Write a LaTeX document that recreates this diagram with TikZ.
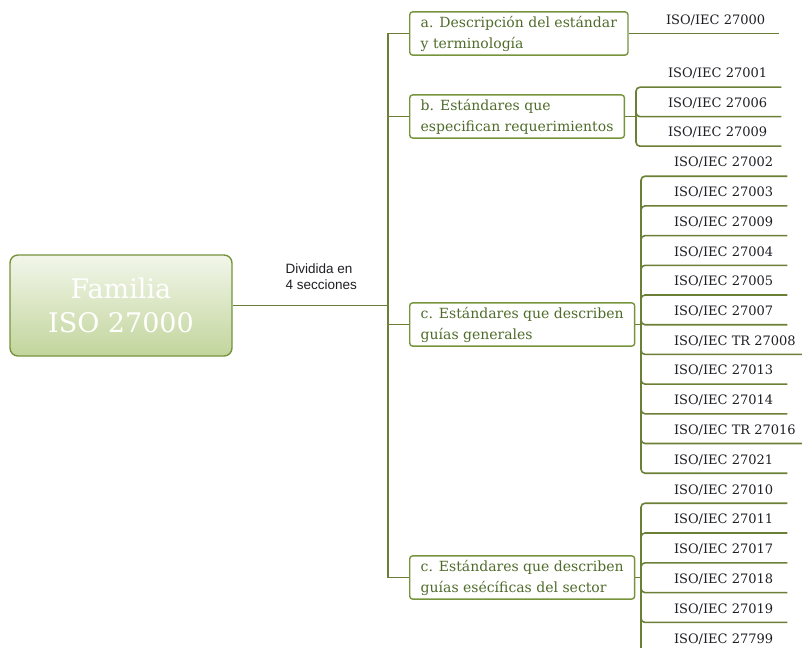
\documentclass[tikz,border=0pt]{standalone}
\usepackage{fontspec}
\setmainfont{DejaVu Serif}
\newfontfamily\labelfont{Liberation Sans}
\usetikzlibrary{positioning}

\definecolor{isogreen}{HTML}{77933C}
\definecolor{isoline}{HTML}{6B7F36}
\definecolor{isotext}{HTML}{4F6B2A}
\definecolor{isodark}{HTML}{1E1E24}
\definecolor{isotop}{HTML}{F2F6EA}
\definecolor{isobottom}{HTML}{C2D59C}

\tikzset{
	conn/.style={draw=isoline, line width=1.6pt},
	mainbox/.style={draw=isogreen, line width=1.4pt, rounded corners=8pt, top color=isotop, bottom color=isobottom, minimum width=222pt, minimum height=101pt, align=center, text=white, font=\fontsize{27}{34}\selectfont},
	secbox/.style={draw=isogreen, line width=1.4pt, rounded corners=3pt, anchor=west, align=left, inner xsep=11pt, inner ysep=4pt, text=isotext, font=\fontsize{14}{21}\selectfont},
	isoitem/.style={anchor=text, inner xsep=14pt, inner ysep=9pt, text depth=0pt, text=isodark, font=\fontsize{13}{15}\selectfont},
}

\begin{document}
\begin{tikzpicture}[x=1pt, y=-1pt]
	\clip (0,0) rectangle (802,647);
	
	% main box and the four sections
	\node[mainbox] (fam) at (121,305.5) {Familia\\ISO 27000};
	\node[secbox] (a) at (409,33.5) {a. Descripción del estándar\\y terminología};
	\node[secbox] (b) at (409,116.5) {b. Estándares que\\especifican requerimientos};
	\node[secbox] (c) at (409,324.5) {c. Estándares que describen\\guías generales};
	\node[secbox] (d) at (409,577.5) {c. Estándares que describen\\guías esécíficas del sector};
	
	\coordinate (tr) at (388,305.5);
	\draw[conn] (fam.east) -- (tr);
	\node[font=\labelfont\fontsize{13.5}{16}\selectfont, text=isodark, align=left, anchor=west] (div) at (282,277) {Dividida en\\4 secciones};
	\foreach \s in {a,b,c,d}
		\draw[conn] (tr) |- (\s.west);
	
	% a
	\node[isoitem] (a1) at (666,24.5) {ISO/IEC 27000};
	\draw[conn] (a.east) -- (a.east -| a1.south east);
	
	% b
	\coordinate (jb) at (636,116.5);
	\draw[conn] (b.east) -- (jb);
	\foreach \t [count=\i] in {27001,27006,27009} {
		\node[isoitem] (b\i) at (668,48.5+29.5*\i) {ISO/IEC \t};
		\draw[conn, rounded corners=4pt] (jb) |- (b\i.south east);
	}
	
	% c, guias generales
	\coordinate (jc) at (641,324.5);
	\draw[conn] (c.east) -- (jc);
	\foreach \t [count=\i] in {27002,27003,27009,27004,27005,27007,TR 27008,27013,27014,TR 27016,27021} {
		\node[isoitem] (c\i) at (674,137.3+29.7*\i) {ISO/IEC \t};
		\draw[conn, rounded corners=4pt] (jc) |- (c\i.south east);
	}
	
	% c, guias del sector
	\coordinate (jd) at (641,577.5);
	\draw[conn] (d.east) -- (jd);
	\foreach \t [count=\i] in {27010,27011,27017,27018,27019,27799} {
		\node[isoitem] (d\i) at (674,464.2+29.8*\i) {ISO/IEC \t};
		\draw[conn, rounded corners=4pt] (jd) |- (d\i.south east);
	}
	
\end{tikzpicture}
\end{document}
